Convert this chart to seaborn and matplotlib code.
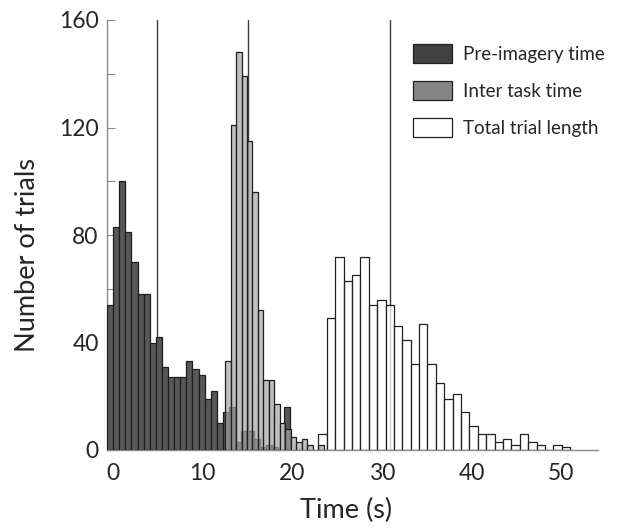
import numpy as np
import pandas as pd
import matplotlib
matplotlib.use("Agg")
import matplotlib.pyplot as plt
from matplotlib.patches import Patch
import seaborn as sns

# ---------------- data ----------------
series_names = ["Pre-imagery time", "Inter task time", "Total trial length"]

# Pre-imagery time histogram: bins start at -0.67 s, 0.681 s wide
pre_bin_start = -0.67
pre_bin_width = 0.681
pre_counts = [54, 83, 100, 81, 70, 58, 58, 40, 42, 31,
              27, 27, 27, 33, 30, 28, 19, 22, 10, 14,
              16, 3, 7, 7, 4, 1, 2, 1, 0, 16]

# Inter task time histogram: bins start at 12.5 s, 0.612 s wide
inter_bin_start = 12.5
inter_bin_width = 0.612
inter_counts = [33, 121, 148, 139, 115, 96, 52, 26, 26, 17,
                10, 8, 5, 3, 4, 2, 0, 2]

# Total trial length histogram: bins start at 22.91 s, 0.936 s wide
total_bin_start = 22.91
total_bin_width = 0.936
total_counts = [6, 49, 72, 63, 65, 72, 54, 56, 54, 46,
                41, 32, 47, 32, 25, 19, 21, 14, 9, 6,
                6, 3, 4, 2, 6, 3, 2, 0, 2, 1]

# vertical reference lines (s)
ref_lines = [4.9, 15.1, 30.9]

x_ticks = [0, 10, 20, 30, 40, 50]
y_ticks = [0, 20, 40, 60, 80, 100, 120, 140, 160]
y_tick_labels = ["0", "", "40", "", "80", "", "120", "", "160"]


def hist_frame(start, width, counts):
    n = len(counts)
    edges = start + width * np.arange(n + 1)
    centers = (edges[:-1] + edges[1:]) / 2
    return pd.DataFrame({"t": centers, "n": counts}), [float(e) for e in edges]


# ---------------- styling ----------------
sns.set_style("white")
plt.rcParams["font.family"] = ["Lato", "DejaVu Sans"]

W, H = 622, 531
fig = plt.figure(figsize=(W / 100, H / 100), dpi=100)
ax = fig.add_axes([107 / W, 1 - 450 / H, (598 - 107) / W, (450 - 20) / H])

for xv in ref_lines:
    ax.axvline(xv, color="#3c3c3c", lw=1.0, zorder=1)

df_pre, e_pre = hist_frame(pre_bin_start, pre_bin_width, pre_counts)
df_int, e_int = hist_frame(inter_bin_start, inter_bin_width, inter_counts)
df_tot, e_tot = hist_frame(total_bin_start, total_bin_width, total_counts)

sns.histplot(data=df_tot, x="t", weights="n", bins=e_tot, ax=ax,
             color="white", alpha=0.75, edgecolor="#202020", linewidth=0.9,
             zorder=2)
sns.histplot(data=df_pre, x="t", weights="n", bins=e_pre, ax=ax,
             color="#585858", alpha=1.0, edgecolor="#1e1e1e", linewidth=0.9,
             zorder=3)
sns.histplot(data=df_int, x="t", weights="n", bins=e_int, ax=ax,
             color="#a4a4a4", alpha=0.7, edgecolor="#1e1e1e", linewidth=0.9,
             zorder=4)

ax.set_xlim(-0.67, 54.1)
ax.set_ylim(0, 160)

ax.set_xticks(x_ticks)
ax.set_xticklabels([str(v) for v in x_ticks])
ax.set_yticks(y_ticks)
ax.set_yticklabels(y_tick_labels)

ax.tick_params(axis="y", direction="in", length=5.5, width=0.8,
               color="#8a8a8a", labelsize=16.5, pad=6, left=True)
ax.tick_params(axis="x", length=0, labelsize=16.5, pad=9, bottom=True)

for s in ["top", "right"]:
    ax.spines[s].set_visible(False)
for s in ["left", "bottom"]:
    ax.spines[s].set_color("#8a8a8a")
    ax.spines[s].set_linewidth(1.0)

ax.set_xlabel("Time (s)", fontsize=19.5)
ax.set_ylabel("Number of trials", fontsize=19.5)
ax.xaxis.set_label_coords((346 - 107) / 491, (450 - 498) / 430)
ax.yaxis.set_label_coords((40 - 107) / 491, (450 - 255) / 430)
ax.grid(False)

handles = [
    Patch(facecolor="#404040", edgecolor="#202020", linewidth=0.9),
    Patch(facecolor="#858585", edgecolor="#202020", linewidth=0.9),
    Patch(facecolor="white", edgecolor="#202020", linewidth=0.9),
]
leg = fig.legend(handles, series_names, loc="upper left",
                 bbox_to_anchor=(413 / W, 1 - 44 / H),
                 frameon=False, fontsize=13.5, borderpad=0, borderaxespad=0,
                 handlelength=2.1, handleheight=1.2, handletextpad=0.55,
                 labelspacing=0.95)

fig.savefig("out.png", dpi=100)
